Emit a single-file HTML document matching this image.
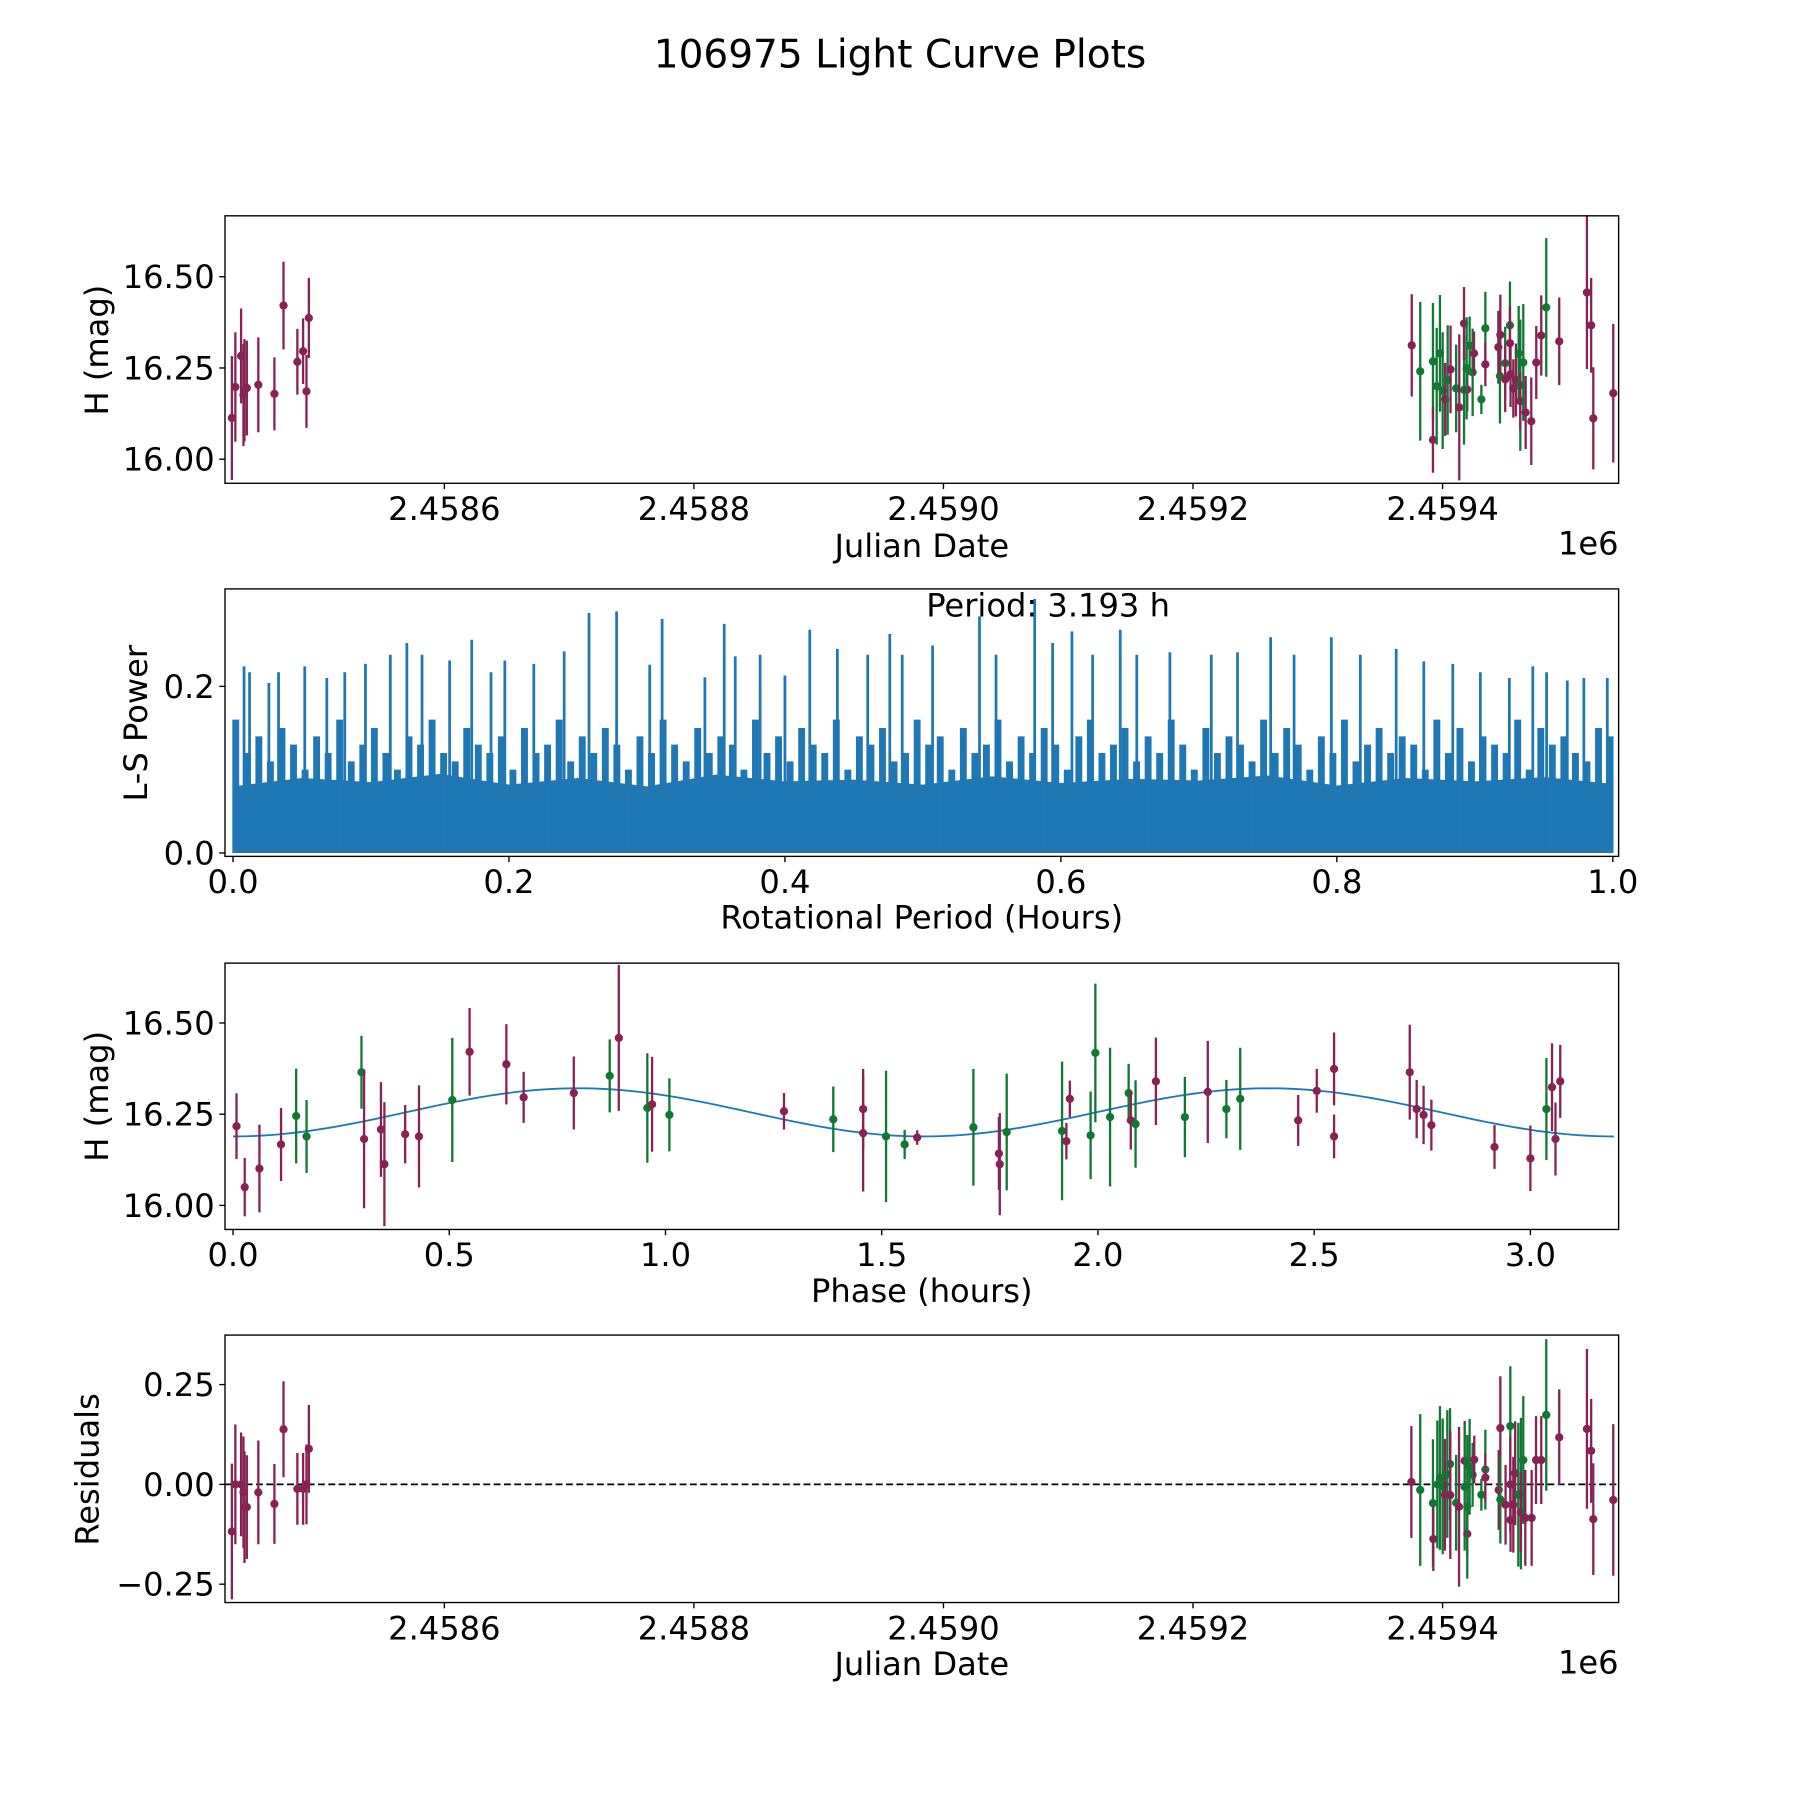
<!DOCTYPE html>
<html><head><meta charset="utf-8"><style>
html,body{margin:0;padding:0;background:#fff}
svg{display:block}
text{font-family:"DejaVu Sans","Liberation Sans",sans-serif;fill:#000}
</style></head><body>
<svg id="fig" width="1800" height="1800" viewBox="0 0 1568 1568" xmlns="http://www.w3.org/2000/svg">
<rect width="1568" height="1568" fill="#fff"/>
<text x="784" y="59" text-anchor="middle" font-size="34">106975 Light Curve Plots</text>
</svg>
<script>
// ---- Data: panel 1 (H vs Julian Date) ----
const jd1=[2458429.7,2458432.5,2458437.1,2458439.0,2458439.8,2458441.7,2458450.9,2458463.8,2458471.1,2458482.2,2458486.8,2458489.5,2458491.4,
2459375.3,2459382.1,2459392.3,2459392.3,2459395.3,2459397.9,2459400.1,2459402.1,2459404.1,2459406.4,2459410.9,2459413.4,2459417.2,2459417.2,2459419.8,2459419.3,2459421.7,2459424.1,2459425.2,2459431.1,2459434.3,2459434.3,2459444.7,2459446.0,2459446.3,2459450.2,2459450.2,2459454.0,2459454.0,2459454.5,2459456.7,2459458.8,2459461.0,2459462.3,2459462.3,2459464.7,2459466.6,2459471.1,2459475.1,2459479.1,2459483.1,2459493.5,2459515.7,2459519.1,2459520.8,2459536.8];
const mag1=[16.113,16.198,16.283,16.176,16.189,16.195,16.204,16.179,16.421,16.267,16.296,16.186,16.387,
16.312,16.241,16.268,16.053,16.200,16.290,16.188,16.164,16.217,16.246,16.194,16.142,16.190,16.372,16.191,16.249,16.311,16.238,16.290,16.164,16.359,16.260,16.307,16.228,16.341,16.263,16.219,16.367,16.318,16.233,16.194,16.217,16.290,16.203,16.159,16.265,16.128,16.104,16.265,16.339,16.416,16.323,16.457,16.367,16.112,16.181];
const err1=[0.17,0.15,0.13,0.14,0.14,0.13,0.13,0.10,0.12,0.09,0.09,0.10,0.11,
0.14,0.19,0.16,0.09,0.16,0.16,0.16,0.10,0.15,0.12,0.12,0.20,0.15,0.10,0.06,0.14,0.08,0.12,0.06,0.04,0.10,0.06,0.10,0.13,0.11,0.10,0.09,0.12,0.10,0.09,0.08,0.10,0.13,0.18,0.08,0.16,0.10,0.12,0.10,0.11,0.19,0.12,0.21,0.13,0.14,0.19];
const grp1=[0,0,0,0,0,0,0,0,0,0,0,0,0,
0,1,1,0,1,1,1,0,1,0,1,0,1,0,0,1,1,1,0,1,1,0,0,1,0,1,0,1,0,0,0,0,1,1,0,1,0,0,0,0,1,0,0,0,0,0];

// ---- Data: panel 2 (periodogram) ----
const peakPeriod=[0.008,0.012,0.026,0.033,0.052,0.068,0.081,0.096,0.114,0.126,0.137,0.157,0.173,0.187,0.197,0.218,0.240,0.258,0.278,0.302,0.311,0.342,0.356,0.364,0.382,0.400,0.418,0.438,0.460,0.476,0.485,0.507,0.541,0.553,0.581,0.594,0.608,0.623,0.643,0.655,0.679,0.709,0.728,0.752,0.769,0.796,0.817,0.843,0.863,0.884,0.904,0.925,0.942,0.952,0.967,0.979,0.996];
const peakPower=[0.224,0.217,0.204,0.217,0.224,0.210,0.217,0.227,0.238,0.252,0.238,0.231,0.256,0.217,0.231,0.227,0.242,0.288,0.290,0.226,0.281,0.211,0.275,0.236,0.238,0.213,0.268,0.245,0.238,0.263,0.238,0.249,0.284,0.238,0.305,0.252,0.266,0.238,0.268,0.238,0.241,0.238,0.241,0.259,0.238,0.259,0.238,0.245,0.230,0.227,0.217,0.210,0.224,0.217,0.207,0.210,0.210];
const bandPower=[0.16,0.12,0.14,0.11,0.15,0.13,0.10,0.14,0.12,0.16,0.11,0.13,0.15,0.12,0.10,0.14,0.13,0.16,0.12,0.11,
0.15,0.13,0.12,0.14,0.10,0.15,0.12,0.13,0.16,0.11,0.14,0.12,0.15,0.13,0.10,0.14,0.12,0.16,0.13,0.11,
0.15,0.12,0.14,0.13,0.10,0.16,0.12,0.14,0.11,0.15,0.13,0.12,0.16,0.10,0.14,0.13,0.15,0.11,0.12,0.16,
0.13,0.14,0.10,0.15,0.12,0.13,0.16,0.11,0.14,0.12,0.15,0.13,0.10,0.14,0.16,0.12,0.13,0.15,0.11,0.14,
0.12,0.16,0.13,0.10,0.15,0.12,0.14,0.13,0.11,0.16,0.12,0.15,0.13,0.10,0.14,0.12,0.16,0.11,0.13,0.15,
0.12,0.14,0.13,0.10,0.16,0.12,0.15,0.11,0.14,0.13,0.12,0.16,0.10,0.15,0.13,0.14,0.12,0.11,0.15,0.14];
const solidPower=[0.08,0.09,0.085,0.095,0.082,0.09,0.08,0.094,0.086,0.088,0.082,0.092,0.084,0.089,0.087,0.093,0.081,0.09,0.086,0.091,0.083];

// ---- Data: panel 3 (phase folded) ----
const phase3=[0.008,0.027,0.061,0.111,0.146,0.170,0.297,0.303,0.342,0.350,0.398,0.430,0.507,0.547,0.632,0.672,0.788,0.871,0.892,0.958,0.969,1.009,1.274,1.388,1.457,1.457,1.510,1.553,1.582,1.712,1.771,1.773,1.789,1.917,1.927,1.935,1.983,1.994,2.028,2.071,2.076,2.087,2.134,2.201,2.254,2.297,2.329,2.463,2.506,2.546,2.546,2.721,2.737,2.753,2.771,2.917,3.000,3.037,3.050,3.058,3.069];
const mag3=[16.217,16.050,16.101,16.167,16.245,16.189,16.365,16.182,16.208,16.113,16.195,16.189,16.289,16.421,16.387,16.296,16.308,16.355,16.459,16.267,16.277,16.248,16.258,16.236,16.264,16.198,16.189,16.167,16.186,16.214,16.142,16.113,16.201,16.204,16.176,16.292,16.192,16.418,16.242,16.308,16.233,16.223,16.340,16.242,16.311,16.264,16.292,16.233,16.314,16.374,16.189,16.365,16.264,16.248,16.220,16.160,16.129,16.264,16.324,16.182,16.340];
const err3=[0.09,0.08,0.12,0.10,0.13,0.10,0.10,0.19,0.13,0.17,0.08,0.14,0.17,0.12,0.11,0.07,0.10,0.10,0.20,0.15,0.13,0.10,0.05,0.09,0.11,0.16,0.18,0.04,0.02,0.16,0.10,0.14,0.16,0.19,0.05,0.05,0.12,0.19,0.19,0.08,0.08,0.12,0.12,0.11,0.14,0.08,0.14,0.07,0.06,0.10,0.06,0.13,0.08,0.08,0.07,0.06,0.09,0.14,0.12,0.10,0.10];
const grp3=[0,0,0,0,1,1,1,0,0,0,0,0,1,0,0,0,0,1,0,1,0,1,0,1,0,0,1,1,0,1,0,0,1,1,0,0,1,1,1,1,0,1,0,1,0,1,1,0,0,0,0,0,0,0,0,0,0,1,0,0,0];
const modelMean=16.255, modelAmp=0.066, modelPeriodH=3.193;

// ---- Data: panel 4 (residuals) ----
const jd4=[2458429.7,2458432.5,2458437.1,2458439.0,2458439.8,2458441.7,2458450.9,2458463.8,2458471.1,2458482.2,2458486.8,2458489.5,2458491.4,
2459375.0,2459382.1,2459392.3,2459392.6,2459395.8,2459397.9,2459400.1,2459401.9,2459403.8,2459406.0,2459406.2,2459410.9,2459413.2,2459417.7,2459417.7,2459419.8,2459419.8,2459421.7,2459424.1,2459425.4,2459431.1,2459434.3,2459434.3,2459445.0,2459446.3,2459446.3,2459454.3,2459454.3,2459450.5,2459454.5,2459456.7,2459458.2,2459460.7,2459462.8,2459462.8,2459464.7,2459466.3,2459471.4,2459474.9,2459479.1,2459483.1,2459493.5,2459515.7,2459519.1,2459520.8,2459536.8];
const res4=[-0.118,0,0,-0.02,-0.057,-0.057,-0.02,-0.049,0.138,-0.011,-0.011,0,0.089,
0.006,-0.014,-0.047,-0.137,0,0.016,-0.005,-0.026,0.026,0.051,-0.027,-0.046,-0.056,0.059,-0.006,-0.124,-0.056,0.044,0.024,0.062,-0.026,0.037,0.017,-0.014,0.141,-0.038,0.146,0,-0.051,-0.089,-0.051,0.028,-0.026,-0.023,-0.07,0.061,-0.084,-0.084,0.061,0.061,0.174,0.118,0.139,0.084,-0.087,-0.039];
const err4=[0.17,0.15,0.13,0.14,0.14,0.13,0.13,0.10,0.12,0.09,0.09,0.10,0.11,
0.14,0.19,0.16,0.08,0.16,0.18,0.17,0.14,0.16,0.14,0.16,0.12,0.20,0.10,0.16,0.06,0.18,0.12,0.08,0.06,0.04,0.10,0.06,0.10,0.13,0.11,0.15,0.12,0.10,0.08,0.12,0.13,0.18,0.19,0.10,0.16,0.12,0.12,0.11,0.11,0.19,0.12,0.20,0.13,0.14,0.19];
const grp4=[0,0,0,0,0,0,0,0,0,0,0,0,0,
0,1,1,0,1,1,1,0,1,1,0,1,0,0,1,0,1,1,1,0,1,1,0,0,0,1,1,0,0,0,0,0,1,1,0,1,0,0,0,0,1,0,0,0,0,0];

const NS="http://www.w3.org/2000/svg";
const svg=document.getElementById('fig');
const COL=['#882255','#117733'];
const FS=28;
function el(tag,attrs,parent){const e=document.createElementNS(NS,tag);for(const k in attrs)e.setAttribute(k,attrs[k]);(parent||svg).appendChild(e);return e;}

function makePanel(name,x0,y0,w,h,xmin,xmax,ymin,ymax){
  const g=el('g',{});
  
  
  const cid='clip-'+name;
  const cp=el('clipPath',{id:cid},g);el('rect',{x:x0,y:y0,width:w,height:h},cp);
  const plot=el('g',{'clip-path':'url(#'+cid+')'},g);
  
  
  const sx=v=>x0+(v-xmin)/(xmax-xmin)*w;
  const sy=v=>y0+h-(v-ymin)/(ymax-ymin)*h;
  return {g,plot,sx,sy,x0,y0,w,h};
}
function frame(p){
  const r=el('rect',{x:p.x0,y:p.y0,width:p.w,height:p.h,fill:'none',stroke:'#000','stroke-width':1.2},p.g);
  
  
}
function xTicks(p,vals,labels){
  vals.forEach((v,i)=>{const x=p.sx(v);
    el('line',{x1:x,x2:x,y1:p.y0+p.h,y2:p.y0+p.h+5,stroke:'#000','stroke-width':1.2},p.g);
    const t=el('text',{x:x,y:p.y0+p.h+32,'text-anchor':'middle','font-size':FS},p.g);t.textContent=labels[i];
    
    
  });
}
function yTicks(p,vals,labels){
  vals.forEach((v,i)=>{const y=p.sy(v);
    el('line',{x1:p.x0-5,x2:p.x0,y1:y,y2:y,stroke:'#000','stroke-width':1.2},p.g);
    const t=el('text',{x:p.x0-9,y:y+10,'text-anchor':'end','font-size':FS},p.g);t.textContent=labels[i];
    
    
  });
}
function label(p,txt,x,y,rot,name){
  const t=el('text',{x:x,y:y,'text-anchor':'middle','font-size':FS,transform:rot?`rotate(-90 ${x} ${y})`:''},p.g);
  t.textContent=txt;
  
  
}
function errPoints(p,xs,ys,es,gs,name){
  xs.forEach((xv,i)=>{
    const x=p.sx(xv),c=COL[gs[i]];
    const l=el('line',{x1:x,x2:x,y1:p.sy(ys[i]-es[i]),y2:p.sy(ys[i]+es[i]),stroke:c,'stroke-width':2},p.plot);
    
    
    const m=el('circle',{cx:x,cy:p.sy(ys[i]),r:3.6,fill:c},p.plot);
    
    
  });
}
const JDMIN=2458424.2,JDMAX=2459541.1;
const jdTicks=[2458600,2458800,2459000,2459200,2459400];
const jdLabels=['2.4586','2.4588','2.4590','2.4592','2.4594'];

// Panel 1
const p1=makePanel('lightcurve-panel',196,188,1214,233,JDMIN,JDMAX,15.934,16.667);
errPoints(p1,jd1,mag1,err1,grp1,'lightcurve');
frame(p1);
xTicks(p1,jdTicks,jdLabels);
yTicks(p1,[16.0,16.25,16.5],['16.00','16.25','16.50']);
label(p1,'Julian Date',803,485,false,'x-axis-title');
label(p1,'H (mag)',94,305,true,'y-axis-title');
{const t=el('text',{x:1410,y:483,'text-anchor':'end','font-size':FS},p1.g);t.textContent='1e6';

}

// Panel 2
const p2=makePanel('periodogram-panel',196,513,1214,233,-0.0058,1.0042,-0.0041,0.317);
{
  const n=solidPower.length;
  let pts=[[p2.sx(0),p2.sy(0)]];
  solidPower.forEach((v,i)=>pts.push([p2.sx(i/(n-1)),p2.sy(v)]));
  pts.push([p2.sx(1),p2.sy(0)]);
  const poly=el('polygon',{points:pts.map(q=>q.join(',')).join(' '),fill:'#1f77b4'},p2.plot);
  
  
  const m=bandPower.length;
  bandPower.forEach((v,i)=>{const x=p2.sx(0.002+i*(0.996/(m-1)));
    const l=el('line',{x1:x,x2:x,y1:p2.sy(0),y2:p2.sy(v),stroke:'#1f77b4','stroke-width':6},p2.plot);
    
    
  });
  peakPeriod.forEach((v,i)=>{const x=p2.sx(v);
    const l=el('line',{x1:x,x2:x,y1:p2.sy(0),y2:p2.sy(peakPower[i]),stroke:'#1f77b4','stroke-width':2.4},p2.plot);
    
    
  });
}
frame(p2);
xTicks(p2,[0,0.2,0.4,0.6,0.8,1.0],['0.0','0.2','0.4','0.6','0.8','1.0']);
yTicks(p2,[0,0.2],['0.0','0.2']);
label(p2,'Rotational Period (Hours)',803,809,false,'x-axis-title');
label(p2,'L-S Power',128,630,true,'y-axis-title');
label(p2,'Period: 3.193 h',913,537,false,'period-annotation');

// Panel 3
const p3=makePanel('phase-panel',196,839,1214,232,-0.0186,3.204,15.934,16.664);
{
  let d='';
  for(let i=0;i<=200;i++){const ph=modelPeriodH*i/200;
    const v=modelMean-modelAmp*Math.cos(2*Math.PI*ph/(modelPeriodH/2));
    d+=(i?'L':'M')+p3.sx(ph).toFixed(2)+','+p3.sy(v).toFixed(2);}
  const path=el('path',{d:d,fill:'none',stroke:'#1f77b4','stroke-width':1.6},p3.plot);
  
  
}
errPoints(p3,phase3,mag3,err3,grp3,'phase');
frame(p3);
xTicks(p3,[0,0.5,1,1.5,2,2.5,3],['0.0','0.5','1.0','1.5','2.0','2.5','3.0']);
yTicks(p3,[16.0,16.25,16.5],['16.00','16.25','16.50']);
label(p3,'Phase (hours)',803,1134,false,'x-axis-title');
label(p3,'H (mag)',94,955,true,'y-axis-title');

// Panel 4
const p4=makePanel('residuals-panel',196,1163,1214,233,JDMIN,JDMAX,-0.296,0.374);
{const y=p4.sy(0);
 const l=el('line',{x1:p4.x0,x2:p4.x0+p4.w,y1:y,y2:y,stroke:'#000','stroke-width':1.5,'stroke-dasharray':'6,3'},p4.plot);
 
 }
errPoints(p4,jd4,res4,err4,grp4,'residual');
frame(p4);
xTicks(p4,jdTicks,jdLabels);
yTicks(p4,[-0.25,0,0.25],['\u22120.25','0.00','0.25']);
label(p4,'Julian Date',803,1459,false,'x-axis-title');
label(p4,'Residuals',86,1280,true,'y-axis-title');
{const t=el('text',{x:1410,y:1458,'text-anchor':'end','font-size':FS},p4.g);t.textContent='1e6';

}
</script>
</body></html>
